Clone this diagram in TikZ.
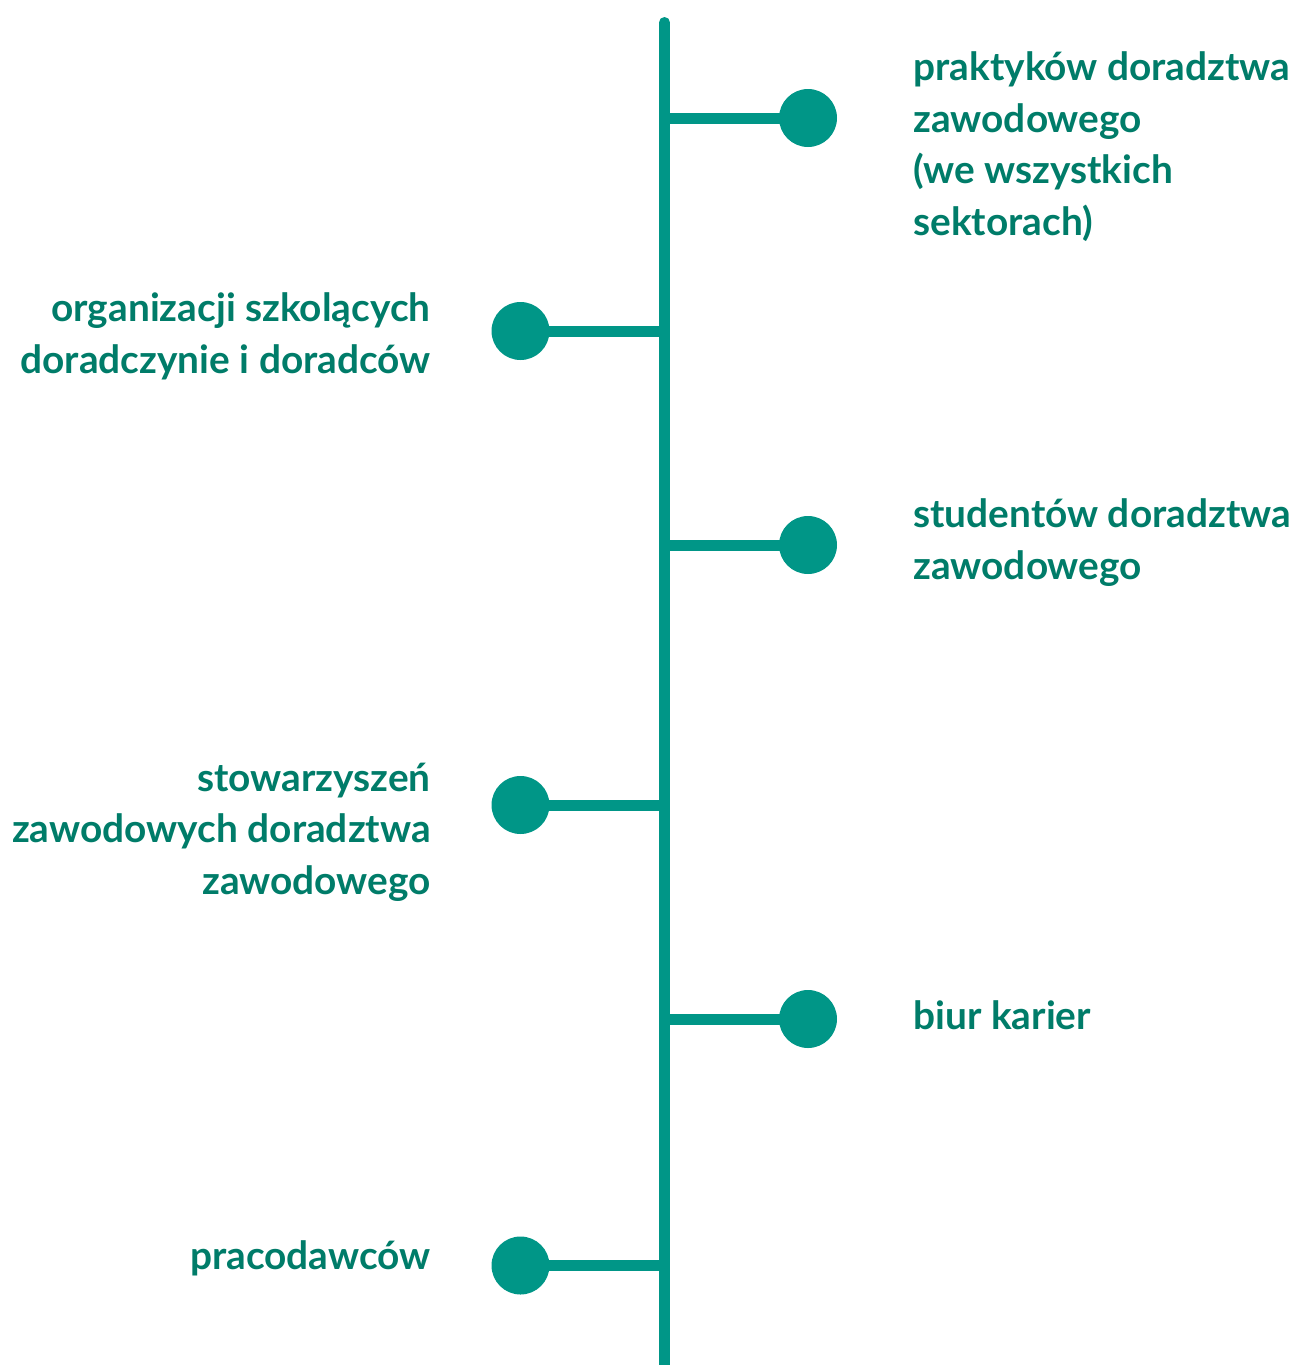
\documentclass[tikz,border=0pt]{standalone}
\usepackage{fontspec}
\setmainfont{Lato}
\definecolor{linecol}{RGB}{0,150,135}
\definecolor{textcol}{RGB}{0,124,105}
\begin{document}
\begin{tikzpicture}[x=0.5pt,y=-0.5pt,
  stem/.style={draw=linecol,line width=5.5pt},
  dot/.style={circle,fill=linecol,minimum size=29pt,inner sep=0pt},
  rlabel/.style={anchor=north west,inner sep=0pt,align=left,text=textcol,font=\fontsize{19.4}{25.75}\selectfont\bfseries},
  llabel/.style={anchor=north east,inner sep=0pt,align=right,text=textcol,font=\fontsize{19.4}{25.75}\selectfont\bfseries}]
\useasboundingbox (0,0) rectangle (1294,1365);
% main axis
\coordinate (top) at (664.5,22.5);
\coordinate (bot) at (664.5,1370);
\draw[stem,line cap=round] (top) -- (664.5,1330);
\draw[stem] (664.5,1330) -- (bot);
% branch points
\coordinate (j1) at (664.5,118);
\coordinate (j2) at (664.5,331);
\coordinate (j3) at (664.5,545);
\coordinate (j4) at (664.5,805);
\coordinate (j5) at (664.5,1019);
\coordinate (j6) at (664.5,1265.5);
% dots
\node[dot] (d1) at (808,118) {};
\node[dot] (d2) at (520.5,331) {};
\node[dot] (d3) at (808,545) {};
\node[dot] (d4) at (520.5,805) {};
\node[dot] (d5) at (808,1019) {};
\node[dot] (d6) at (520.5,1265.5) {};
\foreach \i in {1,...,6} \draw[stem] (j\i) -- (d\i.center);
% labels
\node[rlabel] (t1) at (913,51.5) {praktyków doradztwa\\zawodowego\\(we wszystkich\\sektorach)};
\node[llabel] (t2) at (431,292.5) {organizacji szkolących\\doradczynie i doradców};
\node[rlabel] (t3) at (913,498.5) {studentów doradztwa\\zawodowego};
\node[llabel] (t4) at (431,762.5) {stowarzyszeń\\zawodowych doradztwa\\zawodowego};
\node[rlabel] (t5) at (913,1000.5) {biur karier};
\node[llabel] (t6) at (431,1240.5) {pracodawców};
\end{tikzpicture}
\end{document}
